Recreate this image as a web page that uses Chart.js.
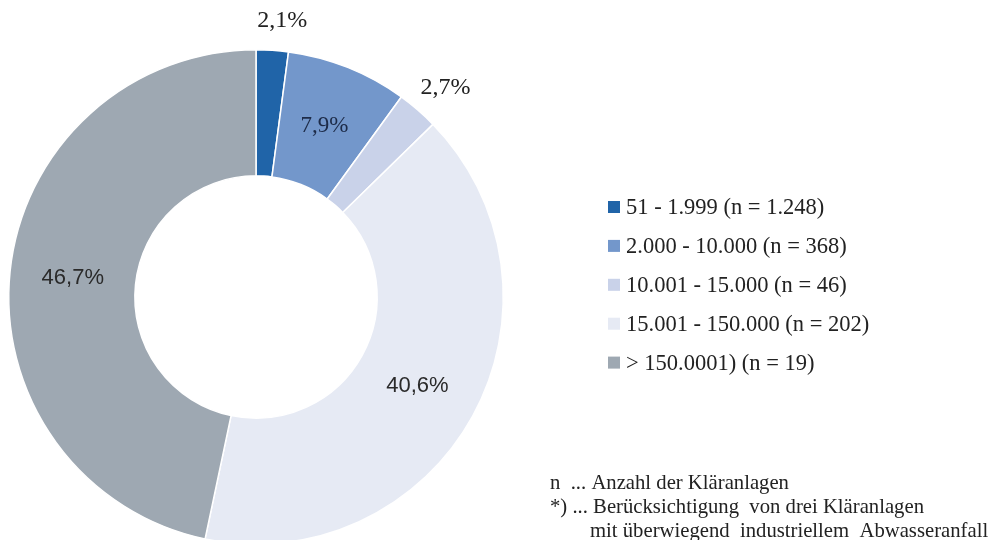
<!DOCTYPE html>
<html>
<head>
<meta charset="utf-8">
<script src="https://cdn.jsdelivr.net/npm/chart.js@4.4.0/dist/chart.umd.min.js"></script>
<style>
html,body{margin:0;padding:0;background:#fff;overflow:hidden;}
#wrap{position:relative;width:991px;height:600px;}
</style>
</head>
<body>
<div id="wrap"><canvas id="c"></canvas></div>
<script>
const categories = ["51 - 1.999 (n = 1.248)", "2.000 - 10.000 (n = 368)", "10.001 - 15.000 (n = 46)", "15.001 - 150.000 (n = 202)", "> 150.0001) (n = 19)"];
const shares = [2.1, 7.9, 2.7, 40.6, 46.7];
const colors = ["#2064a8", "#7397cb", "#c9d2e9", "#e6eaf4", "#9ea8b2"];
const footnotes = ["n  ... Anzahl der Kläranlagen", "*) ... Berücksichtigung  von drei Kläranlagen", "mit überwiegend  industriellem  Abwasseranfall"];

const labelStyle = [
  {outside:true, font:'24px "Liberation Serif"', color:'#222'},
  {outside:false, font:'23px "Liberation Serif"', color:'#1d2b48'},
  {outside:true, font:'24px "Liberation Serif"', color:'#222'},
  {outside:false, font:'22px "Liberation Sans"', color:'#2a2a2a'},
  {outside:false, font:'22px "Liberation Sans"', color:'#2a2a2a'}
];

const fmt = v => v.toFixed(1).replace('.', ',') + '%';

const overlay = {
  id: 'overlay',
  afterDraw(chart) {
    const ctx = chart.ctx;
    const meta = chart.getDatasetMeta(0);
    ctx.save();
    ctx.textAlign = 'center';
    ctx.textBaseline = 'middle';
    meta.data.forEach((arc, i) => {
      const p = arc.getProps(['x','y','startAngle','endAngle','innerRadius','outerRadius'], true);
      const mid = (p.startAngle + p.endAngle) / 2;
      const st = labelStyle[i];
      const r = st.outside ? p.outerRadius + 30 : (p.innerRadius + p.outerRadius) / 2;
      const dx = st.outside ? 8 : 0;
      ctx.font = st.font;
      ctx.fillStyle = st.color;
      ctx.fillText(fmt(shares[i]), p.x + Math.cos(mid) * r + dx, p.y + Math.sin(mid) * r);
    });
    // legend
    const lx = 608, ly = 207, step = 38.9;
    ctx.textAlign = 'left';
    ctx.font = '22.5px "Liberation Serif"';
    categories.forEach((c, i) => {
      const y = ly + i * step;
      ctx.fillStyle = colors[i];
      ctx.fillRect(lx, y - 6, 12, 12);
      ctx.fillStyle = '#222';
      ctx.fillText(c, lx + 18, y + 1);
    });
    // footnotes
    ctx.textBaseline = 'alphabetic';
    ctx.font = '20.7px "Liberation Serif"';
    ctx.fillStyle = '#222';
    ctx.fillText(footnotes[0], 550, 489);
    ctx.fillText(footnotes[1], 550, 513);
    ctx.fillText(footnotes[2], 590, 537);
    ctx.restore();
  }
};

new Chart(document.getElementById('c'), {
  type: 'doughnut',
  data: {
    labels: categories,
    datasets: [{
      data: shares,
      backgroundColor: colors,
      borderColor: '#ffffff',
      borderWidth: 1.5,
      hoverOffset: 0
    }]
  },
  options: {
    responsive: true,
    maintainAspectRatio: false,
    animation: false,
    cutout: '49%',
    layout: { padding: { left: 8, top: 49, right: 487, bottom: 55 } },
    plugins: {
      legend: { display: false },
      tooltip: { enabled: false }
    }
  },
  plugins: [overlay]
});
</script>
</body>
</html>
